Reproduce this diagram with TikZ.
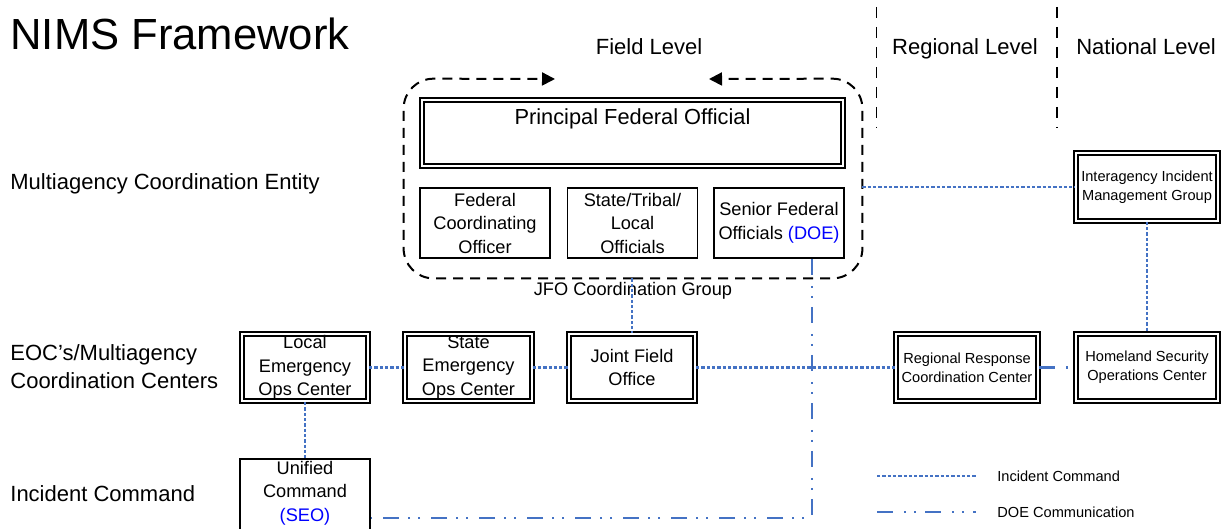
\documentclass[tikz,border=0pt]{standalone}
\usepackage{fontspec}
\setmainfont{Liberation Sans}
\usetikzlibrary{arrows.meta}
\definecolor{icblue}{RGB}{68,114,196}
\definecolor{txtblue}{RGB}{0,0,255}
\begin{document}
\begin{tikzpicture}[x=0.5pt,y=-0.5pt,
  dbl/.style={draw, line width=0.95pt, double=white, double distance=1.0pt, inner sep=0pt, align=center},
  sbox/.style={draw, line width=0.9pt, inner sep=0pt, align=center},
  bigtxt/.style={font=\fontsize{9.1}{11.75}\selectfont},
  smalltxt/.style={font=\fontsize{7.3}{9.5}\selectfont},
  lbl/.style={font=\fontsize{11}{14}\selectfont, inner sep=0pt},
  ic/.style={draw=icblue, line width=1.05pt, dash pattern=on 1.65pt off 1pt},
  doe/.style={draw=icblue, line width=1.05pt, dash pattern=on 8pt off 5.5pt on 1pt off 4pt on 1pt off 4.5pt},
  grp/.style={draw=black, line width=1pt, dash pattern=on 5pt off 3.5pt, rounded corners=15pt},
  lvl/.style={draw=black, line width=0.95pt, dash pattern=on 5.5pt off 4.5pt},
  tip/.style={-{Triangle[length=6.5pt,width=6.5pt]}},
]
\useasboundingbox (0,0) rectangle (1226,529);
\clip (0,0) rectangle (1226,529);

% title and level labels
\node[font=\fontsize{21.8}{26}\selectfont, inner sep=0pt, anchor=base west] (title) at (10,50) {NIMS Framework};
\node[lbl, anchor=base] (field) at (649,55) {Field Level};
\node[lbl, anchor=base] (regional) at (965,55) {Regional Level};
\node[lbl, anchor=base] (national) at (1146,55) {National Level};
\coordinate (l1t) at (876.5,7); \coordinate (l1b) at (876.5,128);
\coordinate (l2t) at (1057,7); \coordinate (l2b) at (1057,128);
\draw[lvl] (l1t) -- (l1b);
\draw[lvl] (l2t) -- (l2b);

% row labels
\node[lbl, anchor=base west] (mce) at (10,190) {Multiagency Coordination Entity};
\node[lbl, anchor=west, align=left] (eoc) at (10,367) {EOC’s/Multiagency\\Coordination Centers};
\node[lbl, anchor=base west] (icl) at (10,501) {Incident Command};

% JFO coordination group
\node[minimum width=229pt, minimum height=99.5pt, inner sep=0pt] (jfog) at (633,178.5) {};
\coordinate (arrl) at (555,79);
\coordinate (arrr) at (709,79);
\draw[grp, tip] (jfog.south) -- (jfog.south west) -- (jfog.north west) -- (arrl);
\draw[grp, tip] (jfog.south) -- (jfog.south east) -- (jfog.north east) -- (arrr);
\node[font=\fontsize{9.1}{11}\selectfont, inner sep=0pt, anchor=base] (jfogl) at (633,296) {JFO Coordination Group};

\node[dbl, minimum width=210.7pt, minimum height=33.2pt] (pfo) at (632.5,133) {};
\node[font=\fontsize{10.9}{13}\selectfont, inner sep=0pt, anchor=base] (pfot) at (632.5,125) {Principal Federal Official};
\node[sbox, bigtxt, minimum width=65pt, minimum height=35pt] (fco) at (485,223) {Federal\\Coordinating\\Officer};
\node[sbox, bigtxt, minimum width=65pt, minimum height=35pt] (stl) at (632.5,223) {State/Tribal/\\Local\\Officials};
\node[sbox, bigtxt, minimum width=65pt, minimum height=35pt] (sfo) at (779,223) {Senior Federal\\Officials {\color{txtblue}(DOE)}};

% national / regional boxes
\node[dbl, smalltxt, minimum width=71.2pt, minimum height=33.7pt] (iimg) at (1147,187) {Interagency Incident\\Management Group};
\node[dbl, smalltxt, minimum width=71.2pt, minimum height=33.7pt] (rrcc) at (967,367.5) {Regional Response\\Coordination Center};
\node[dbl, smalltxt, minimum width=71.2pt, minimum height=33.7pt] (hsoc) at (1147,367.5) {Homeland Security\\Operations Center};

% EOC row
\node[dbl, bigtxt, minimum width=63.2pt, minimum height=33.7pt] (leoc) at (305,367.5) {Local\\Emergency\\Ops Center};
\node[dbl, bigtxt, minimum width=63.2pt, minimum height=33.7pt] (seoc) at (468.5,367.5) {State\\Emergency\\Ops Center};
\node[dbl, bigtxt, minimum width=63.2pt, minimum height=33.7pt] (jfo) at (632,367.5) {Joint Field\\Office};

% unified command
\node[sbox, minimum width=65pt, minimum height=50pt, anchor=north] (uc) at (305,457.85) {};
\node[bigtxt, align=center, inner sep=0pt] (uct) at (305,493) {Unified\\Command\\{\color{txtblue}(SEO)}};

% connectors
\draw[ic] (leoc) -- (seoc);
\draw[ic] (seoc) -- (jfo);
\draw[ic] (jfo) -- (rrcc);
\draw[doe] (rrcc) -- (hsoc);
\draw[ic] (iimg) -- (hsoc);
\draw[ic] (leoc.south) -- (uc.north);
\draw[ic] (jfo.north |- jfog.south) -- (jfo.north);
\draw[ic] (jfog.east |- iimg.west) -- (iimg.west);
\coordinate (dc) at (812,518);
\draw[doe] (dc |- sfo.south) -- (dc) -- (uc.east |- dc);

% legend
\coordinate (lg1a) at (877,476); \coordinate (lg1b) at (976,476);
\coordinate (lg2a) at (877,512); \coordinate (lg2b) at (976,512);
\draw[ic] (lg1a) -- (lg1b);
\draw[doe] (lg2a) -- (lg2b);
\node[smalltxt, anchor=west, inner sep=0pt] (lg1t) at (997,476) {Incident Command};
\node[smalltxt, anchor=west, inner sep=0pt] (lg2t) at (997,512) {DOE Communication};
\end{tikzpicture}
\end{document}
